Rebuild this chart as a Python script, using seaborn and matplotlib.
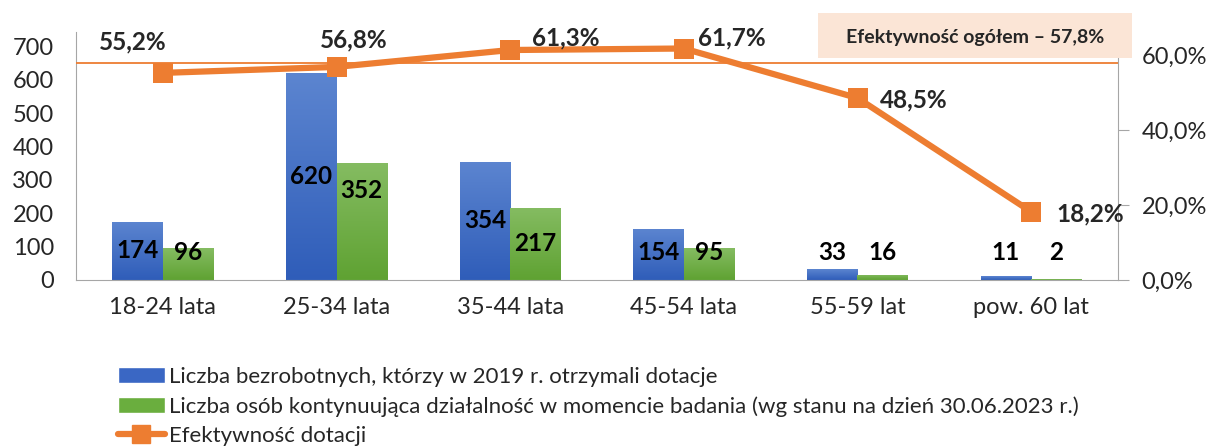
import numpy as np
import pandas as pd
import matplotlib.pyplot as plt
import seaborn as sns
from matplotlib.patches import Rectangle, Patch
from matplotlib.lines import Line2D
from matplotlib.colors import LinearSegmentedColormap

# dane
categories = ['18-24 lata', '25-34 lata', '35-44 lata', '45-54 lata', '55-59 lat', 'pow. 60 lat']
dotacje = [174, 620, 354, 154, 33, 11]
kontynuacja = [96, 352, 217, 95, 16, 2]
efektywnosc = [55.2, 56.8, 61.3, 61.7, 48.5, 18.2]
efektywnosc_ogolem = 57.8

s1 = 'Liczba bezrobotnych, którzy w 2019 r. otrzymali dotacje'
s2 = 'Liczba osób kontynuująca działalność w momencie badania (wg stanu na dzień 30.06.2023 r.)'
s3 = 'Efektywność dotacji'

df = pd.DataFrame({'kat': categories * 2,
                   'seria': [s1] * len(categories) + [s2] * len(categories),
                   'liczba': dotacje + kontynuacja})

sns.set_style('white')
plt.rcParams['font.family'] = ['Lato', 'DejaVu Sans']

BLUE = '#3A67C4'
GREEN = '#6AAE3E'
ORANGE = '#ED7D31'
GRID = '#A6A6A6'

W, H = 1211, 448
fig = plt.figure(figsize=(W / 100, H / 100), dpi=100)
ax = fig.add_axes([76 / W, 1 - 280 / H, (1118 - 76) / W, (280 - 32) / H])

sns.barplot(data=df, x='kat', y='liczba', hue='seria', palette=[BLUE, GREEN],
            width=0.58, saturation=1, legend=False, ax=ax)

# gradient na slupkach
grads = [('#2F5DB9', '#5C85D0'), ('#5FA232', '#85BC62')]
grad = np.linspace(0, 1, 256).reshape(-1, 1)
for cont, (c0, c1) in zip(ax.containers, grads):
    cmap = LinearSegmentedColormap.from_list('g', [c0, c1])
    for bar in cont:
        x0, y0 = bar.get_x(), bar.get_y()
        x1, y1 = x0 + bar.get_width(), y0 + bar.get_height()
        im = ax.imshow(grad, cmap=cmap, origin='lower', aspect='auto',
                       extent=[x0, x1, y0, y1], zorder=2)
        im.set_clip_path(bar)
        bar.set_facecolor('none')
        bar.set_edgecolor('none')
ax.set_xlim(-0.5, len(categories) - 0.5)
ax.set_ylim(0, 744)

# etykiety slupkow
half = 0.58 / 4
for i in range(len(categories)):
    for dx, v in [(-half, dotacje[i]), (half, kontynuacja[i])]:
        y = max(v / 2, 83)
        if v == 352:
            y = 270
        ax.text(i + dx, y, str(v), ha='center', va='center', fontsize=17.5,
                fontweight='bold', color='black', zorder=5)

ax.set_xlabel('')
ax.set_ylabel('')
ax.set_yticks(range(0, 701, 100))
ax.tick_params(axis='y', length=0, labelsize=17, pad=16)
ax.tick_params(axis='x', which='major', length=0, labelsize=17, pad=12)
ax.set_xticks(np.arange(-0.5, len(categories), 1), minor=True)
ax.tick_params(axis='x', which='minor', length=8, color=GRID, direction='out')
for sp in ['left', 'bottom']:
    ax.spines[sp].set_color(GRID)
ax.spines['top'].set_visible(False)
ax.spines['right'].set_visible(False)

# os prawa - efektywnosc
ax2 = ax.twinx()
ax2.axhline(efektywnosc_ogolem, color=ORANGE, lw=1.3, zorder=1)
sns.lineplot(x=np.arange(len(categories)), y=efektywnosc, color=ORANGE, lw=4.5,
             marker='s', markersize=14, markeredgewidth=0, ax=ax2, zorder=3)
ax2.set_ylim(0, 66.1)
ax2.set_yticks([0, 20, 40, 60])
ax2.set_yticklabels([f'{t:.1f}%'.replace('.', ',') for t in [0, 20, 40, 60]])
ax2.tick_params(axis='y', length=8, color=GRID, labelsize=17, pad=9)
for sp in ['left', 'bottom', 'top']:
    ax2.spines[sp].set_visible(False)
ax2.spines['right'].set_color(GRID)
ax2.set_xlim(-0.5, len(categories) - 0.5)

offsets = [(-30, 31, 'center'), (17, 27, 'center'), (22, 12, 'left'),
           (14, 11, 'left'), (22, -2, 'left'), (25, -2, 'left')]
for i, v in enumerate(efektywnosc):
    dx, dy, ha = offsets[i]
    ax2.annotate(f'{v:.1f}%'.replace('.', ','), (i, v), xytext=(dx, dy),
                 textcoords='offset pixels', ha=ha, va='center', fontsize=17.5,
                 fontweight='bold')

# ramka z efektywnoscia ogolem
fig.add_artist(Rectangle((818 / W, 1 - 58 / H), (1132 - 818) / W, 45 / H,
                         transform=fig.transFigure, facecolor='#FBE5D6',
                         edgecolor='none', zorder=5))
fig.text(975 / W, 1 - 37 / H, 'Efektywność ogółem – 57,8%', ha='center', va='center',
         fontsize=14, fontweight='bold', zorder=6)

handles = [Patch(facecolor=BLUE), Patch(facecolor=GREEN),
           Line2D([], [], color=ORANGE, lw=4.5, marker='s', markersize=13)]
fig.legend(handles, [s1, s2, s3], loc='upper left', bbox_to_anchor=(118 / W, 1 - 367 / H),
           frameon=False, fontsize=16, handlelength=2.1, handletextpad=0.2,
           labelspacing=0.42, borderaxespad=0, borderpad=0)

plt.savefig('out.png', dpi=100)
